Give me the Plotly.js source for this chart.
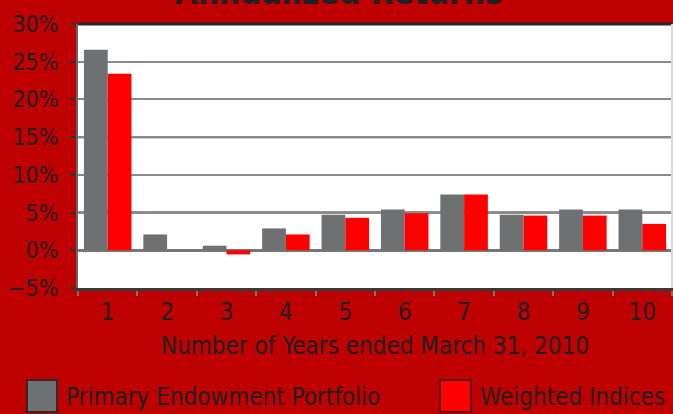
<!DOCTYPE html>
<html>
<head>
<meta charset="utf-8">
<script src="https://cdn.plot.ly/plotly-3.0.1.min.js"></script>
<style>html,body{margin:0;padding:0;background:#bf0000;}#chart{width:673px;height:414px;}</style>
</head>
<body>
<div id="chart"></div>
<script>
var years = ['1','2','3','4','5','6','7','8','9','10'];
var endowment = [26.6, 2.1, 0.6, 2.9, 4.7, 5.4, 7.4, 4.7, 5.4, 5.4];
var weighted = [23.4, 0.0, -0.55, 2.1, 4.3, 4.9, 7.4, 4.6, 4.6, 3.5];
var seriesNames = ['Primary Endowment Portfolio', 'Weighted Indices'];
var chartTitle = 'Annualized Returns';
var xTitle = 'Number of Years ended March 31, 2010';

var FONT = '"DejaVu Sans Condensed", "Liberation Sans Narrow", sans-serif';
var TXT = '#231f20';
var GRAY = '#6f7071';
var RED = '#ff0000';

var traces = [
  {type:'bar', x: years, y: endowment, name: seriesNames[0], marker:{color:GRAY}, showlegend:false, hoverinfo:'x+y'},
  {type:'bar', x: years, y: weighted, name: seriesNames[1], marker:{color:RED}, showlegend:false, hoverinfo:'x+y'}
];

var L = 78, R = 1, T = 24, B = 126, W = 673, H = 414;
var pw = W - L - R, ph = H - T - B;
function px(x){ return (x - L) / pw; }
function py(y){ return (H - B - y) / ph; }

var layout = {
  width: W, height: H,
  margin: {l: L, r: R, t: T, b: B, pad: 0},
  paper_bgcolor: '#bf0000',
  plot_bgcolor: '#ffffff',
  font: {family: FONT, color: TXT, size: 23},
  barmode: 'group',
  bargap: 0.2,
  bargroupgap: 0,
  xaxis: {
    type: 'category',
    tickson: 'boundaries',
    ticks: 'outside', ticklen: 5, tickwidth: 2, tickcolor: '#777',
    showline: true, linecolor: '#3a3a3a', linewidth: 3,
    showgrid: false,
    tickfont: {size: 24, family: FONT, color: TXT},
    ticklabelstandoff: 0,
    title: {text: xTitle, font: {size: 24, family: FONT, color: TXT}, standoff: 13},
    fixedrange: true
  },
  yaxis: {
    range: [-5, 30], dtick: 5, tick0: 0,
    ticksuffix: '%',
    ticks: 'outside', ticklen: 6, tickwidth: 2, tickcolor: '#333',
    showline: true, linecolor: '#666', linewidth: 2,
    gridcolor: '#8a8a8a', gridwidth: 2,
    zeroline: true, zerolinecolor: '#777', zerolinewidth: 3,
    tickfont: {size: 23, family: FONT, color: TXT},
    ticklabelstandoff: 7,
    fixedrange: true
  },
  shapes: [
    {type:'line', xref:'paper', yref:'y', x0:0, x1:1, y0:5, y1:5, line:{color:'#222', width:2}, layer:'below'},
    {type:'line', xref:'paper', yref:'y', x0:0, x1:1, y0:15, y1:15, line:{color:'#333', width:2}, layer:'below'},
    {type:'line', xref:'paper', yref:'paper', x0:0, x1:1, y0:1, y1:1, line:{color:'#2a2a2a', width:3}},
    {type:'line', xref:'paper', yref:'paper', x0:1, x1:1, y0:0, y1:1, line:{color:'#d8d8d8', width:2}},
    {type:'rect', xref:'paper', yref:'paper', x0:px(27), x1:px(57), y0:py(412), y1:py(380), fillcolor:GRAY, line:{color:'#3a2424', width:2}},
    {type:'rect', xref:'paper', yref:'paper', x0:px(440), x1:px(471), y0:py(412), y1:py(380), fillcolor:RED, line:{color:'#5a1515', width:2}}
  ],
  annotations: [
    {xref:'paper', yref:'paper', x:px(339), y:py(-8), xanchor:'center', yanchor:'middle', text: '<b>' + chartTitle + '</b>', showarrow:false, font:{size:33, family:FONT, color:TXT}},
    {xref:'paper', yref:'paper', x:px(64), y:py(397), xanchor:'left', yanchor:'middle', text: seriesNames[0], showarrow:false, font:{size:24, family:FONT, color:TXT}},
    {xref:'paper', yref:'paper', x:px(478), y:py(397), xanchor:'left', yanchor:'middle', text: seriesNames[1], showarrow:false, font:{size:24, family:FONT, color:TXT}}
  ]
};

Plotly.newPlot('chart', traces, layout, {displayModeBar: false, staticPlot: true});
</script>
</body>
</html>
